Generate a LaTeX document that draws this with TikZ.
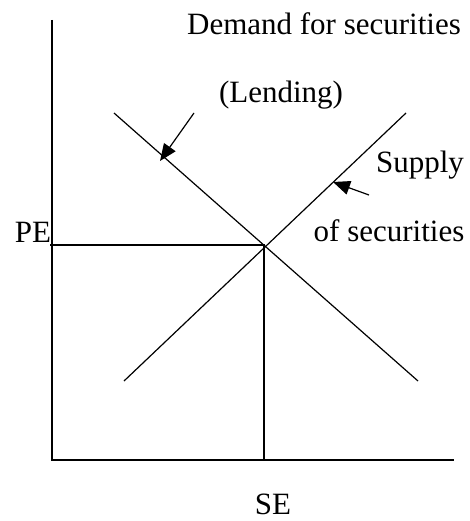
\documentclass[tikz,border=0pt]{standalone}
\usepackage{fontspec}
\setmainfont{Liberation Serif}
\usetikzlibrary{arrows.meta, positioning}

\begin{document}
\begin{tikzpicture}[x=1pt, y=-1pt, line width=1.2pt,
    lbl/.style={font=\fontsize{31}{36}\selectfont, inner sep=0pt, anchor=base},
    pointer/.style={-{Triangle[length=17pt, width=14pt]}}]
    \useasboundingbox (0,0) rectangle (469,521);

    % axes
    \coordinate (origin) at (52,460);
    \coordinate (ytop) at (52,20);
    \coordinate (xend) at (454,460);
    \draw (ytop) -- (origin) -- (xend);

    % demand and supply
    \coordinate (dtop) at (114,113);
    \coordinate (dbot) at (418,381);
    \coordinate (sbot) at (124,381);
    \coordinate (stop) at (406,113);
    \coordinate (eq) at (264,245);
    \draw (dtop) -- (dbot);
    \draw (sbot) -- (stop);

    % equilibrium
    \coordinate (pe) at (50,245);
    \coordinate (se) at (264,460);
    \draw (pe) -- (eq) -- (se);

    % labels
    \node[lbl] (demand) at (324,35) {Demand for securities};
    \node[lbl] (lending) at (281,103) {(Lending)};
    \node[lbl] (supply) at (420,173) {Supply};
    \node[lbl] (ofsec) at (389,241) {of securities};
    \node[lbl] (pelbl) at (33,242) {PE};
    \node[lbl] (selbl) at (273,514) {SE};

    % pointers
    \coordinate (dfrom) at (194,113);
    \coordinate (dto) at (160,161);
    \coordinate (sfrom) at (369,195);
    \coordinate (sto) at (333,182);
    \draw[pointer] (dfrom) -- (dto);
    \draw[pointer] (sfrom) -- (sto);
\end{tikzpicture}
\end{document}
